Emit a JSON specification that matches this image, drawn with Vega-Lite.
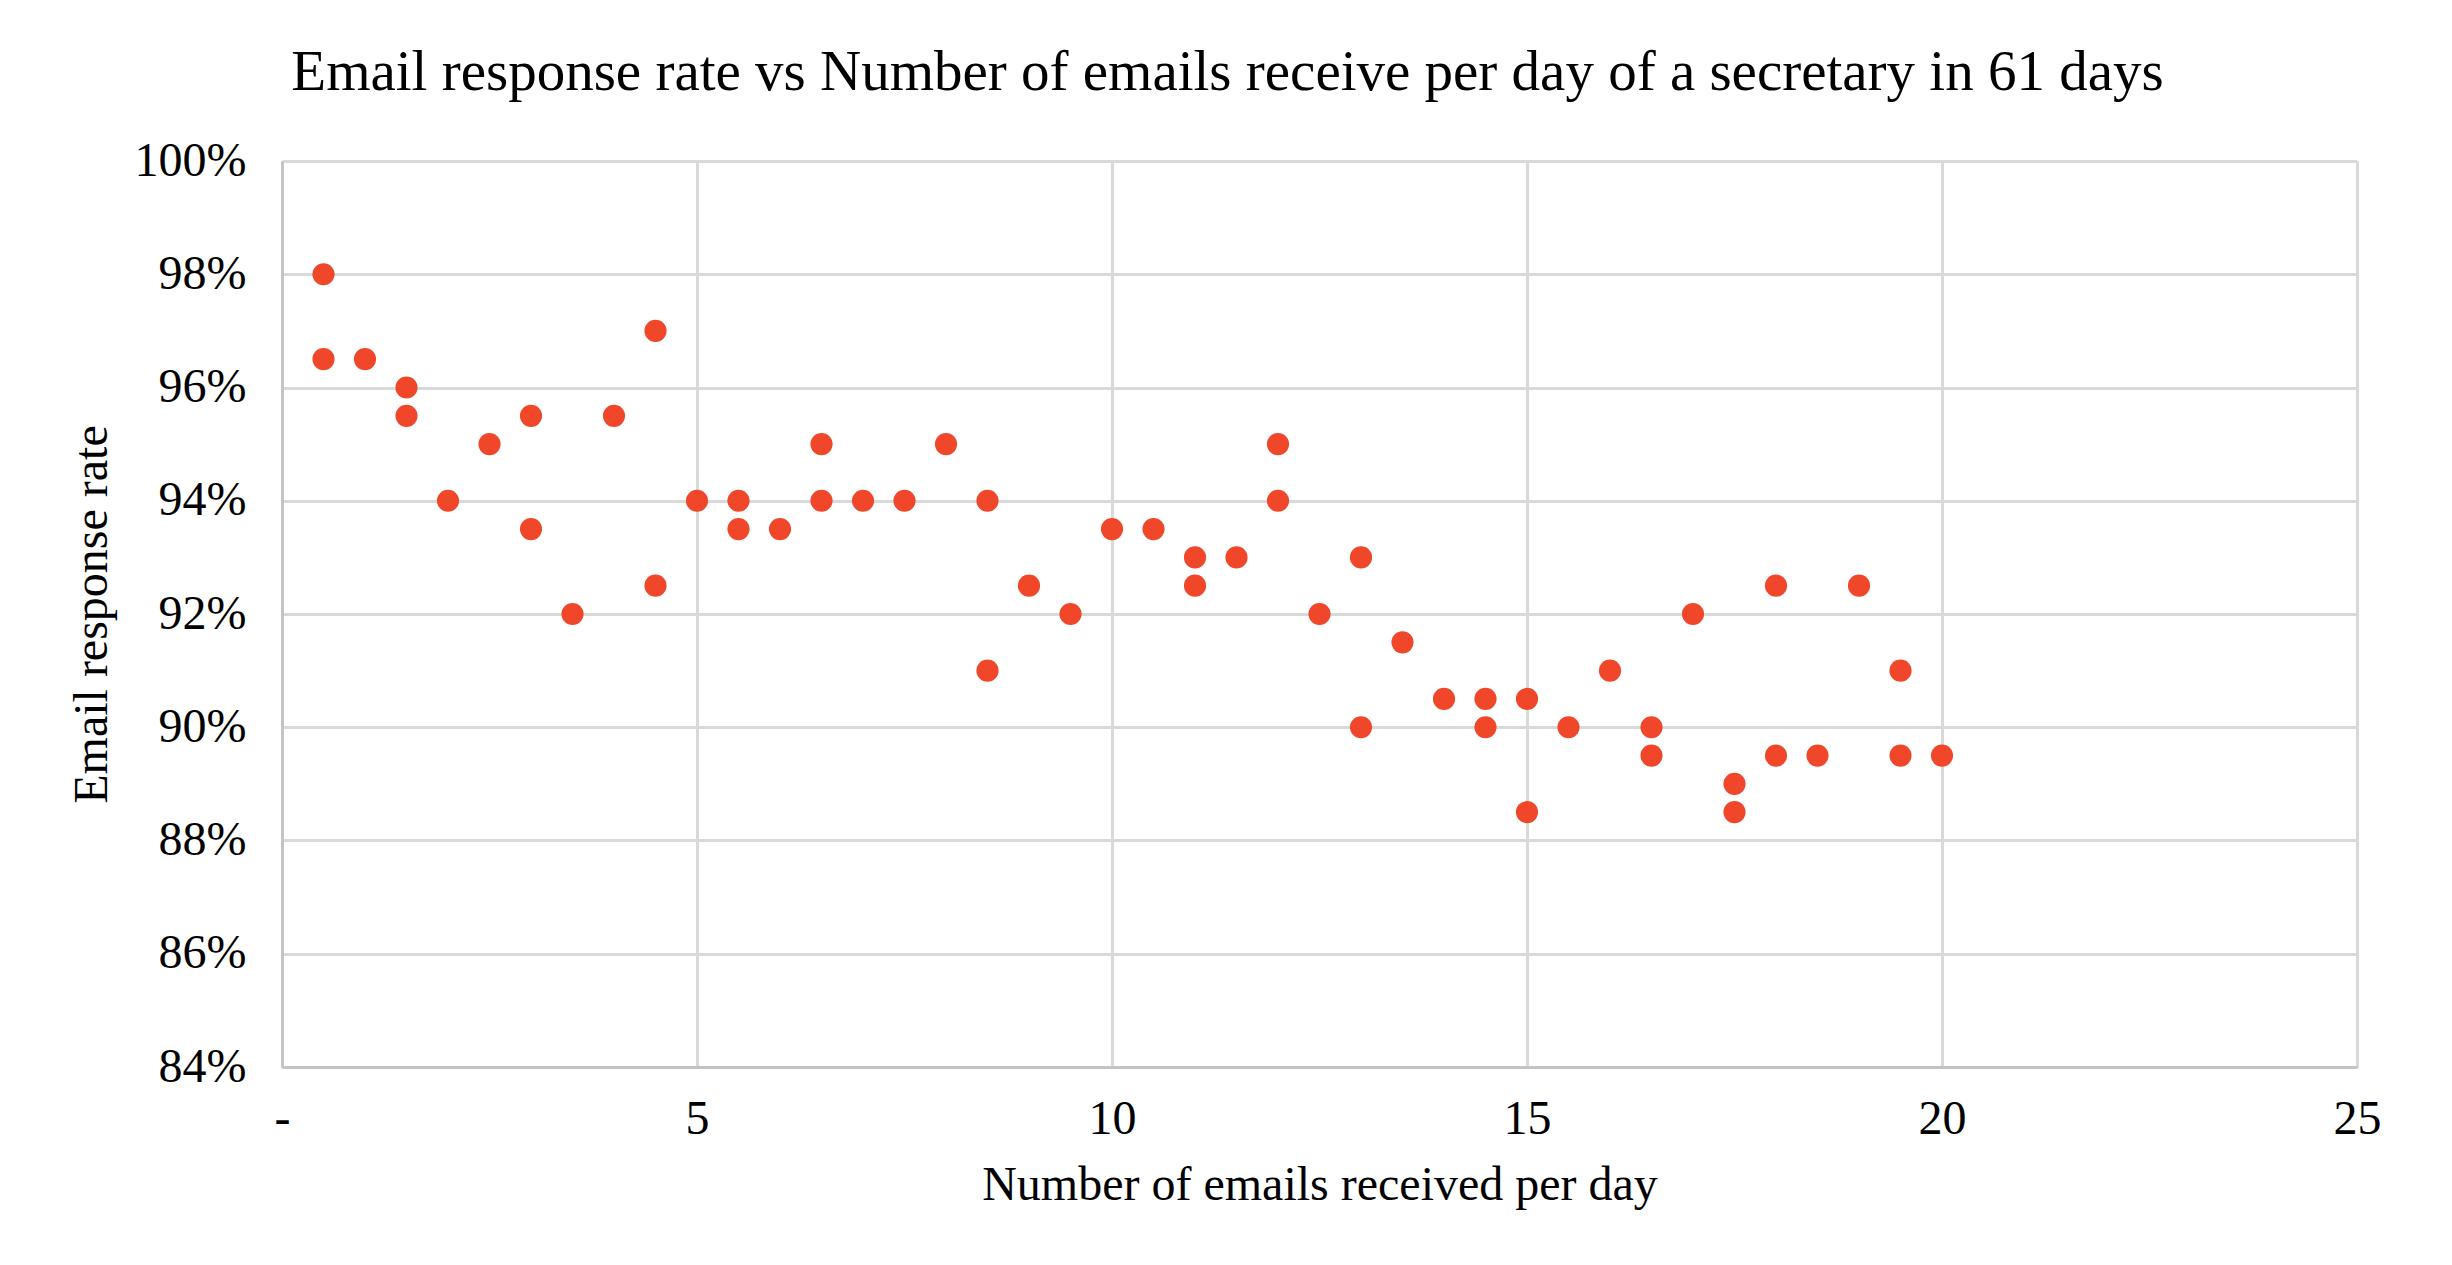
{
  "$schema": "https://vega.github.io/schema/vega-lite/v6.json",
  "autosize": "none",
  "width": 2075,
  "height": 906,
  "padding": {"left": 282, "top": 161, "right": 95, "bottom": 198},
  "background": "white",
  "title": {
    "text": "Email response rate vs Number of emails receive per day of a secretary in 61 days",
    "font": "Liberation Serif",
    "fontSize": 57,
    "fontWeight": "normal",
    "color": "#000000",
    "anchor": "middle",
    "baseline": "alphabetic",
    "offset": 40,
    "dy": 50,
    "dx": -92
  },
  "data": {
    "values": [
      {"emails": 0.5, "rate": 0.98},
      {"emails": 0.5, "rate": 0.965},
      {"emails": 1, "rate": 0.965},
      {"emails": 1.5, "rate": 0.96},
      {"emails": 1.5, "rate": 0.955},
      {"emails": 2, "rate": 0.94},
      {"emails": 2.5, "rate": 0.95},
      {"emails": 3, "rate": 0.955},
      {"emails": 3, "rate": 0.935},
      {"emails": 3.5, "rate": 0.92},
      {"emails": 4, "rate": 0.955},
      {"emails": 4.5, "rate": 0.97},
      {"emails": 4.5, "rate": 0.925},
      {"emails": 5, "rate": 0.94},
      {"emails": 5.5, "rate": 0.94},
      {"emails": 5.5, "rate": 0.935},
      {"emails": 6, "rate": 0.935},
      {"emails": 6.5, "rate": 0.95},
      {"emails": 6.5, "rate": 0.94},
      {"emails": 7, "rate": 0.94},
      {"emails": 7.5, "rate": 0.94},
      {"emails": 8, "rate": 0.95},
      {"emails": 8.5, "rate": 0.94},
      {"emails": 8.5, "rate": 0.91},
      {"emails": 9, "rate": 0.925},
      {"emails": 9.5, "rate": 0.92},
      {"emails": 10, "rate": 0.935},
      {"emails": 10.5, "rate": 0.935},
      {"emails": 11, "rate": 0.93},
      {"emails": 11, "rate": 0.925},
      {"emails": 11.5, "rate": 0.93},
      {"emails": 12, "rate": 0.95},
      {"emails": 12, "rate": 0.94},
      {"emails": 12.5, "rate": 0.92},
      {"emails": 13, "rate": 0.93},
      {"emails": 13, "rate": 0.90},
      {"emails": 13.5, "rate": 0.915},
      {"emails": 14, "rate": 0.905},
      {"emails": 14.5, "rate": 0.905},
      {"emails": 14.5, "rate": 0.90},
      {"emails": 15, "rate": 0.905},
      {"emails": 15, "rate": 0.885},
      {"emails": 15.5, "rate": 0.90},
      {"emails": 16, "rate": 0.91},
      {"emails": 16.5, "rate": 0.90},
      {"emails": 16.5, "rate": 0.895},
      {"emails": 17, "rate": 0.92},
      {"emails": 17.5, "rate": 0.89},
      {"emails": 17.5, "rate": 0.885},
      {"emails": 18, "rate": 0.925},
      {"emails": 18, "rate": 0.895},
      {"emails": 18.5, "rate": 0.895},
      {"emails": 19, "rate": 0.925},
      {"emails": 19.5, "rate": 0.91},
      {"emails": 19.5, "rate": 0.895},
      {"emails": 20, "rate": 0.895}
    ]
  },
  "mark": {"type": "circle", "size": 490, "color": "#F04629", "opacity": 1},
  "encoding": {
    "x": {
      "field": "emails",
      "type": "quantitative",
      "scale": {"domain": [0, 25], "nice": false, "zero": false},
      "axis": {
        "title": "Number of emails received per day",
        "values": [0, 5, 10, 15, 20, 25],
        "labelExpr": "datum.value == 0 ? '-' : datum.label",
        "labelPadding": 28,
        "titlePadding": 18
      }
    },
    "y": {
      "field": "rate",
      "type": "quantitative",
      "scale": {"domain": [0.84, 1.0], "nice": false, "zero": false},
      "axis": {
        "title": "Email response rate",
        "values": [0.84, 0.86, 0.88, 0.90, 0.92, 0.94, 0.96, 0.98, 1.0],
        "format": ".0%",
        "labelPadding": 36,
        "titlePadding": 18
      }
    }
  },
  "config": {
    "view": {"stroke": null},
    "axis": {
      "labelFont": "Liberation Serif",
      "labelFontSize": 48,
      "labelColor": "#000000",
      "titleFont": "Liberation Serif",
      "titleFontSize": 48,
      "titleFontWeight": "normal",
      "titleColor": "#000000",
      "gridColor": "#D9D9D9",
      "gridWidth": 3,
      "domainColor": "#C4C4C4",
      "domainWidth": 3,
      "ticks": false,
      "labelOverlap": false,
      "labelFlush": false
    },
    "axisY": {"domain": true},
    "axisX": {"domain": true}
  }
}
